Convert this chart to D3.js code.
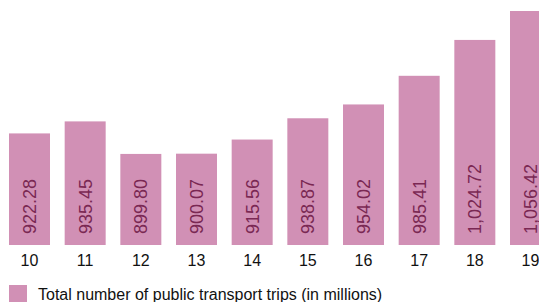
<!DOCTYPE html>
<html>
<head>
<meta charset="utf-8">
<script src="https://cdn.jsdelivr.net/npm/d3@7"></script>
<style>
  body { margin: 0; background: #fff; }
  svg { display: block; font-family: "Liberation Sans", Arial, Helvetica, sans-serif; }
</style>
</head>
<body>
<svg></svg>
<script>
let width = 539;
let height = 302;

let years = ['10', '11', '12', '13', '14', '15', '16', '17', '18', '19'];
let trips = [922.28, 935.45, 899.80, 900.07, 915.56, 938.87, 954.02, 985.41, 1024.72, 1056.42];
let legendLabel = 'Total number of public transport trips (in millions)';

let data = years.map((y, i) => ({ year: y, value: trips[i] }));

let barColor = '#d190b5';
let labelColor = '#7a2853';

let xScale = d3.scaleBand()
                .domain(years)
                .range([0, 560])
                .paddingInner(0.2635)
                .paddingOuter(0.1617);

let yScale = d3.scaleLinear()
                .domain([800, d3.max(trips)])
                .range([245, 11]);

let svg = d3.select('svg')
            .attr('width', width)
            .attr('height', height);

let bars = svg.selectAll('.bar')
            .data(data)
            .enter()
            .append('g')
                .classed('bar', true);

bars
    .append('rect')
        .attr('x', d => xScale(d.year))
        .attr('y', d => yScale(d.value))
        .attr('width', xScale.bandwidth())
        .attr('height', d => yScale(800) - yScale(d.value))
        .attr('fill', barColor);

let fmt = d3.format(',.2f');

bars
    .append('text')
        .text(d => fmt(d.value))
        .attr('transform', d => `translate(${xScale(d.year) + xScale.bandwidth() / 2},${yScale(800) - 11}) rotate(-90)`)
        .attr('dy', '0.36em')
        .attr('fill', labelColor)
        .style('font-size', '18px');

// x labels
svg.append('g')
    .selectAll('text')
    .data(years)
    .enter()
    .append('text')
        .attr('x', d => xScale(d) + xScale.bandwidth() / 2)
        .attr('y', 265.5)
        .attr('text-anchor', 'middle')
        .style('font-size', '16px')
        .attr('fill', '#111')
        .text(d => d);

// legend
let legend = svg.append('g').attr('transform', 'translate(9,285)');

legend.append('rect')
    .attr('width', 18)
    .attr('height', 17)
    .attr('fill', barColor);

legend.append('text')
    .attr('x', 29)
    .attr('y', 15)
    .style('font-size', '16px')
    .attr('fill', '#111')
    .text(legendLabel);
</script>
</body>
</html>
